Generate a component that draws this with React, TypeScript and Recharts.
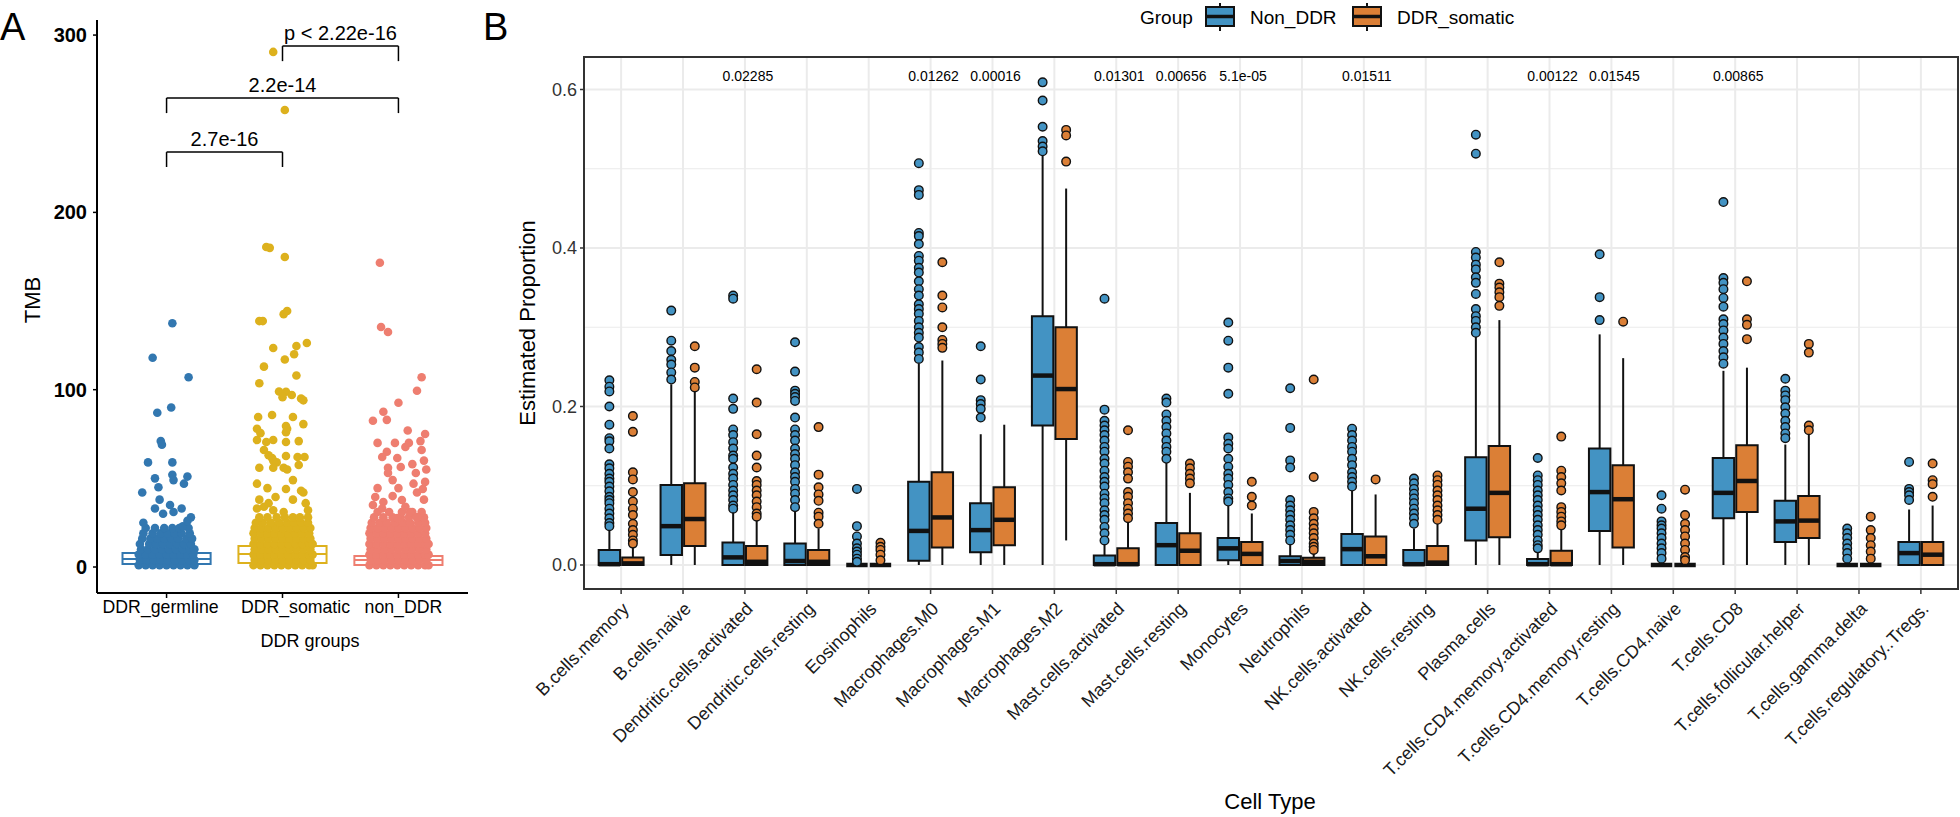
import { ScatterChart, Scatter, XAxis, YAxis, CartesianGrid, ReferenceArea, ReferenceLine } from 'recharts'

const FONT = '"Liberation Sans", Arial, Helvetica, sans-serif'

// ---------- panel A : TMB by DDR group ----------
const ddrGroups = ['DDR_germline', 'DDR_somatic', 'non_DDR']
const ddrColors = ['#3277B0', '#DDB11D', '#EE7E70']
// labels in the figure sit a bit off their ticks
const ddrLabelShift = [-6, 13, 5]
// [q1, median, q3]
const ddrBoxes = [
  [1.7, 4.5, 7.9],
  [2.3, 7.3, 11.9],
  [1.1, 4, 6.2],
]

// scattered points above the dense base: [jitter, TMB]
const germlinePoints = [
  [0.05, 137.5], [-0.12, 118], [0.19, 107], [-0.08, 87], [0.04, 90], [-0.05, 71], [-0.04, 69],
  [-0.16, 59], [0.05, 59], [-0.1, 50], [-0.07, 45], [0.05, 52], [0.06, 49], [0.15, 47], [0.18, 51],
  [-0.21, 42], [-0.06, 38], [-0.1, 33], [0.03, 35], [0.13, 33], [0.06, 31], [-0.03, 30], [0.21, 28],
  [0.14, 23], [0.18, 26], [-0.2, 25],
]
const somaticPoints = [
  [-0.08, 290.5], [0.02, 257.7], [-0.14, 180.5], [-0.11, 180], [0.02, 174.8], [-0.2, 138.7], [-0.17, 138.7],
  [0.01, 142.6], [0.04, 144.4], [-0.08, 123.5], [0.12, 124.6], [0.21, 126.3], [0.02, 117], [0.1, 120],
  [-0.16, 113], [0.12, 108], [-0.2, 103.6], [-0.03, 99], [0.03, 98.8], [0.08, 97], [0, 95.8], [0.16, 95],
  [0.18, 94], [-0.21, 84.6], [-0.09, 85.7], [0.09, 84.6], [0.03, 79.5], [0.18, 80.6], [-0.22, 78],
  [-0.19, 75.5], [-0.22, 71.6], [-0.14, 70.5], [-0.08, 71.6], [0.03, 76], [0.04, 78], [0.03, 70.5],
  [0.14, 71], [-0.16, 66], [-0.12, 63], [-0.09, 61.5], [-0.08, 60], [-0.05, 59], [0.03, 62.6], [0.13, 62],
  [0.19, 62], [-0.2, 56], [-0.08, 56], [0.01, 56], [0.04, 55], [0.14, 57.5], [-0.22, 47], [-0.13, 44.5],
  [-0.06, 39.5], [0.03, 44], [0.09, 49], [0.16, 43], [0.18, 42], [-0.22, 33], [-0.16, 34], [-0.08, 32],
  [0.01, 31], [0.09, 38], [0.22, 32], [-0.2, 38], [0.2, 36], [-0.12, 36],
]
const nonDdrPoints = [
  [-0.16, 171.6], [-0.15, 135.4], [-0.09, 132.5], [0.2, 107], [0.16, 99.4], [0, 92.6], [-0.13, 87.6],
  [-0.22, 82.5], [-0.1, 83], [0.08, 77], [-0.18, 70], [-0.03, 70], [0.06, 67.7], [0.09, 70], [-0.1, 65],
  [-0.14, 62], [-0.01, 61.5], [0.02, 56.4], [-0.09, 56], [-0.09, 53], [0.15, 53], [-0.18, 44.5],
  [-0.2, 39.5], [-0.05, 49], [0, 44.5], [0.13, 47], [0.16, 42], [-0.22, 35], [-0.13, 36.7], [0.03, 37.8],
  [-0.14, 33], [0.1, 31], [-0.01, 27.6], [0.16, 28], [0.22, 38], [0.21, 44], [0.22, 60], [0.2, 66],
  [-0.05, 40], [0.06, 34], [0.23, 75], [0.24, 55], [0.19, 71], [0.23, 48], [0.12, 58],
]

// dense base of points, row value -> jitter positions
const germlineBase: [number, number[]][] = [
  [1, [-0.24, -0.18, -0.12, -0.06, 0, 0.06, 0.12, 0.18, 0.24]],
  [4, [-0.23, -0.17, -0.11, -0.05, 0.01, 0.07, 0.13, 0.19, 0.24]],
  [7, [-0.24, -0.18, -0.12, -0.06, 0, 0.06, 0.12, 0.18, 0.23]],
  [10, [-0.22, -0.16, -0.1, -0.04, 0.02, 0.08, 0.14, 0.2, 0.24]],
  [13, [-0.23, -0.15, -0.09, -0.03, 0.03, 0.09, 0.15, 0.21]],
  [16, [-0.21, -0.14, -0.08, -0.02, 0.04, 0.1, 0.17, 0.22]],
  [19, [-0.2, -0.12, -0.05, 0.01, 0.07, 0.13, 0.2]],
  [22, [-0.18, -0.1, -0.02, 0.05, 0.11, 0.19]],
]
const somaticBase: [number, number[]][] = [
  [1, [-0.25, -0.19, -0.13, -0.07, -0.01, 0.05, 0.11, 0.17, 0.23, 0.26]],
  [4, [-0.24, -0.18, -0.12, -0.06, 0, 0.06, 0.12, 0.18, 0.24]],
  [7, [-0.25, -0.19, -0.13, -0.07, -0.01, 0.05, 0.11, 0.17, 0.23, 0.26]],
  [10, [-0.24, -0.18, -0.12, -0.06, 0, 0.06, 0.12, 0.18, 0.24]],
  [13, [-0.25, -0.19, -0.13, -0.07, -0.01, 0.05, 0.11, 0.17, 0.23, 0.26]],
  [16, [-0.24, -0.18, -0.12, -0.06, 0, 0.06, 0.12, 0.18, 0.24]],
  [19, [-0.25, -0.19, -0.13, -0.07, -0.01, 0.05, 0.11, 0.17, 0.23]],
  [22, [-0.24, -0.18, -0.12, -0.06, 0, 0.06, 0.12, 0.18, 0.24]],
  [25, [-0.23, -0.17, -0.1, -0.03, 0.04, 0.1, 0.16, 0.22]],
  [28, [-0.2, -0.13, -0.05, 0.02, 0.09, 0.15, 0.22]],
]
const nonDdrBase: [number, number[]][] = [
  [1, [-0.25, -0.19, -0.13, -0.07, -0.01, 0.05, 0.11, 0.17, 0.23, 0.26]],
  [4, [-0.24, -0.18, -0.12, -0.06, 0, 0.06, 0.12, 0.18, 0.24]],
  [7, [-0.25, -0.19, -0.13, -0.07, -0.01, 0.05, 0.11, 0.17, 0.23, 0.26]],
  [10, [-0.24, -0.18, -0.12, -0.06, 0, 0.06, 0.12, 0.18, 0.24]],
  [13, [-0.25, -0.19, -0.13, -0.07, -0.01, 0.05, 0.11, 0.17, 0.23, 0.26]],
  [16, [-0.24, -0.18, -0.12, -0.06, 0, 0.06, 0.12, 0.18, 0.24]],
  [19, [-0.25, -0.19, -0.13, -0.07, -0.01, 0.05, 0.11, 0.17, 0.23]],
  [22, [-0.24, -0.18, -0.12, -0.06, 0, 0.06, 0.12, 0.18, 0.24]],
  [25, [-0.23, -0.16, -0.1, -0.03, 0.04, 0.1, 0.17, 0.23]],
  [28, [-0.21, -0.13, -0.05, 0.02, 0.09, 0.16, 0.22]],
  [31, [-0.18, -0.08, 0.03, 0.12, 0.2]],
]

const brackets = [
  { from: 2, to: 3, y: 293.8, tip: 285.3, label: 'p < 2.22e-16' },
  { from: 1, to: 3, y: 264.5, tip: 256, label: '2.2e-14' },
  { from: 1, to: 2, y: 234, tip: 225.6, label: '2.7e-16' },
]

// ---------- panel B : CIBERSORT proportions ----------
const cellTypes = [
  'B.cells.memory', 'B.cells.naive', 'Dendritic.cells.activated', 'Dendritic.cells.resting',
  'Eosinophils', 'Macrophages.M0', 'Macrophages.M1', 'Macrophages.M2', 'Mast.cells.activated',
  'Mast.cells.resting', 'Monocytes', 'Neutrophils', 'NK.cells.activated', 'NK.cells.resting',
  'Plasma.cells', 'T.cells.CD4.memory.activated', 'T.cells.CD4.memory.resting', 'T.cells.CD4.naive',
  'T.cells.CD8', 'T.cells.follicular.helper', 'T.cells.gamma.delta', 'T.cells.regulatory..Tregs.',
]

// [lower whisker, q1, median, q3, upper whisker]
const nonDdrStats = [
  [0, 0, 0.001, 0.019, 0.046], [0, 0.0126, 0.049, 0.101, 0.228], [0, 0, 0.0096, 0.0285, 0.067],
  [0, 0, 0.005, 0.027, 0.067], [0, 0, 0, 0, 0], [0, 0.0055, 0.043, 0.105, 0.254],
  [0, 0.016, 0.044, 0.078, 0.165], [0, 0.176, 0.239, 0.314, 0.517], [0, 0, 0.001, 0.012, 0.027],
  [0, 0, 0.025, 0.053, 0.13], [0, 0.006, 0.021, 0.034, 0.075], [0, 0, 0.005, 0.011, 0.026],
  [0, 0, 0.02, 0.039, 0.094], [0, 0, 0.001, 0.019, 0.046], [0, 0.031, 0.071, 0.136, 0.288],
  [0, 0, 0.001, 0.0075, 0.017], [0, 0.043, 0.092, 0.147, 0.291], [0, 0, 0, 0, 0],
  [0, 0.059, 0.091, 0.135, 0.245], [0, 0.029, 0.055, 0.081, 0.152], [0, 0, 0, 0, 0],
  [0, 0, 0.015, 0.029, 0.07],
]
const ddrStats = [
  [0, 0, 0.002, 0.0096, 0.023], [0, 0.024, 0.058, 0.103, 0.22], [0, 0, 0.004, 0.024, 0.057],
  [0, 0, 0.004, 0.019, 0.046], [0, 0, 0, 0, 0], [0, 0.022, 0.06, 0.117, 0.258],
  [0, 0.025, 0.057, 0.098, 0.177], [0.031, 0.159, 0.222, 0.3, 0.475], [0, 0, 0.001, 0.021, 0.055],
  [0, 0, 0.018, 0.04, 0.091], [0, 0, 0.014, 0.029, 0.065], [0, 0, 0.004, 0.009, 0.016],
  [0, 0, 0.011, 0.036, 0.089], [0, 0, 0.003, 0.024, 0.055], [0, 0.035, 0.091, 0.15, 0.309],
  [0, 0, 0.001, 0.018, 0.046], [0, 0.022, 0.083, 0.126, 0.261], [0, 0, 0, 0, 0],
  [0, 0.067, 0.106, 0.151, 0.249], [0, 0.034, 0.056, 0.087, 0.164], [0, 0, 0, 0, 0],
  [0, 0, 0.013, 0.029, 0.075],
]

const nonDdrOutliers = [
  [0.233, 0.225, 0.219, 0.2, 0.177, 0.16, 0.156, 0.147, 0.127, 0.122, 0.115, 0.109, 0.105, 0.099, 0.093, 0.086, 0.082, 0.078, 0.071, 0.065, 0.059, 0.053, 0.049],
  [0.321, 0.283, 0.27, 0.259, 0.253, 0.243, 0.234],
  [0.34, 0.336, 0.21, 0.197, 0.171, 0.164, 0.155, 0.147, 0.138, 0.134, 0.123, 0.115, 0.109, 0.101, 0.094, 0.088, 0.082, 0.075, 0.071],
  [0.281, 0.244, 0.22, 0.216, 0.212, 0.207, 0.186, 0.171, 0.164, 0.157, 0.147, 0.14, 0.134, 0.126, 0.117, 0.111, 0.105, 0.096, 0.09, 0.082, 0.073],
  [0.096, 0.049, 0.036, 0.027, 0.021, 0.017, 0.013, 0.008, 0.004],
  [0.507, 0.473, 0.467, 0.419, 0.415, 0.405, 0.39, 0.384, 0.375, 0.369, 0.358, 0.348, 0.34, 0.329, 0.323, 0.317, 0.308, 0.3, 0.293, 0.287, 0.275, 0.268, 0.26],
  [0.276, 0.234, 0.208, 0.203, 0.197, 0.186],
  [0.609, 0.586, 0.553, 0.535, 0.528, 0.522],
  [0.336, 0.196, 0.182, 0.176, 0.17, 0.164, 0.157, 0.149, 0.143, 0.134, 0.128, 0.119, 0.111, 0.105, 0.099, 0.09, 0.084, 0.078, 0.069, 0.063, 0.057, 0.048, 0.04, 0.031],
  [0.21, 0.205, 0.19, 0.182, 0.174, 0.166, 0.157, 0.149, 0.143, 0.134],
  [0.306, 0.283, 0.249, 0.216, 0.161, 0.153, 0.147, 0.134, 0.124, 0.115, 0.109, 0.101, 0.092, 0.084, 0.08],
  [0.223, 0.173, 0.132, 0.123, 0.082, 0.075, 0.069, 0.063, 0.057, 0.05, 0.044, 0.038, 0.031],
  [0.172, 0.164, 0.157, 0.149, 0.143, 0.134, 0.126, 0.117, 0.111, 0.105, 0.099],
  [0.109, 0.103, 0.096, 0.09, 0.084, 0.078, 0.071, 0.065, 0.059, 0.052],
  [0.543, 0.519, 0.395, 0.388, 0.379, 0.373, 0.363, 0.356, 0.342, 0.323, 0.314, 0.308, 0.3, 0.293],
  [0.135, 0.113, 0.107, 0.101, 0.094, 0.088, 0.082, 0.075, 0.069, 0.063, 0.057, 0.05, 0.044, 0.038, 0.031, 0.025, 0.021],
  [0.392, 0.338, 0.309],
  [0.088, 0.071, 0.055, 0.05, 0.046, 0.04, 0.034, 0.027, 0.021, 0.015, 0.008],
  [0.458, 0.362, 0.356, 0.348, 0.337, 0.326, 0.31, 0.304, 0.296, 0.287, 0.279, 0.27, 0.262, 0.254],
  [0.235, 0.22, 0.214, 0.208, 0.199, 0.191, 0.182, 0.174, 0.166, 0.16],
  [0.046, 0.04, 0.034, 0.027, 0.021, 0.015, 0.008],
  [0.13, 0.096, 0.092, 0.088, 0.082],
]
const ddrOutliers = [
  [0.188, 0.168, 0.117, 0.108, 0.092, 0.08, 0.071, 0.063, 0.052, 0.044, 0.038, 0.031, 0.027],
  [0.276, 0.249, 0.231, 0.224],
  [0.247, 0.205, 0.165, 0.138, 0.123, 0.106, 0.101, 0.094, 0.088, 0.08, 0.073, 0.065, 0.061],
  [0.174, 0.114, 0.098, 0.089, 0.081, 0.066, 0.061, 0.052],
  [0.028, 0.023, 0.019, 0.013, 0.006],
  [0.382, 0.34, 0.325, 0.3, 0.284, 0.279, 0.274],
  [],
  [0.549, 0.542, 0.509],
  [0.17, 0.13, 0.124, 0.117, 0.109, 0.092, 0.086, 0.078, 0.071, 0.065, 0.059],
  [0.128, 0.122, 0.115, 0.109, 0.103],
  [0.105, 0.086, 0.075],
  [0.234, 0.111, 0.067, 0.059, 0.052, 0.046, 0.04, 0.034, 0.027, 0.023, 0.019],
  [0.108],
  [0.113, 0.107, 0.101, 0.094, 0.088, 0.082, 0.075, 0.069, 0.063, 0.057],
  [0.382, 0.355, 0.35, 0.344, 0.338, 0.327],
  [0.162, 0.119, 0.111, 0.103, 0.094, 0.073, 0.067, 0.061, 0.055, 0.05],
  [0.307],
  [0.095, 0.063, 0.052, 0.044, 0.036, 0.027, 0.019, 0.01, 0.006],
  [0.358, 0.31, 0.303, 0.285],
  [0.279, 0.268, 0.176, 0.17],
  [0.061, 0.044, 0.034, 0.025, 0.017, 0.008],
  [0.128, 0.107, 0.102, 0.086],
]

// wilcoxon p per cell type index
const pValues: [number, string][] = [
  [2, '0.02285'], [5, '0.01262'], [6, '0.00016'], [8, '0.01301'], [9, '0.00656'],
  [10, '5.1e-05'], [12, '0.01511'], [15, '0.00122'], [16, '0.01545'], [18, '0.00865'],
]
const pLabelY = 0.617

const groupNames = ['Non_DDR', 'DDR_somatic']
const groupColors = ['#4393C3', '#DB7F36']

const jitter = (pts: number[][], g: number) => pts.map(([dx, v]) => ({ x: g + dx, y: v }))
const base = (rows: [number, number[]][], g: number) =>
  rows.flatMap(([v, offs]) => offs.map(dx => ({ x: g + dx, y: v })))

const panelAPoints = [
  [...base(germlineBase, 1), ...jitter(germlinePoints, 1)],
  [...base(somaticBase, 2), ...jitter(somaticPoints, 2)],
  [...base(nonDdrBase, 3), ...jitter(nonDdrPoints, 3)],
]

const dot = (fill: string, r: number, stroke?: string) => (p: any) =>
  <circle cx={p.cx} cy={p.cy} r={r} fill={fill} stroke={stroke ?? 'none'} strokeWidth={stroke ? 1.4 : 0} />

const GroupTick = (props: any) => {
  const { x, y, payload } = props
  const i = payload.value - 1
  return (
    <text x={x + ddrLabelShift[i]} y={y} dy="0.71em" textAnchor="middle" fontSize={17.7} fill="#000"
      fontFamily={FONT}>{ddrGroups[i]}</text>
  )
}

function PanelA() {
  return (
    <ScatterChart width={480} height={817} margin={{ top: 20, right: 12, bottom: 194, left: 37 }}
      style={{ position: 'absolute', left: 0, top: 0 }}>
      <XAxis type="number" dataKey="x" domain={[0.4, 3.6]} ticks={[1, 2, 3]} interval={0} height={30}
        axisLine={{ stroke: '#000', strokeWidth: 2 }} tickLine={{ stroke: '#000', strokeWidth: 1.5 }} tickSize={5}
        tick={<GroupTick />} />
      <YAxis type="number" dataKey="y" domain={[-14.66, 308.5]} ticks={[0, 100, 200, 300]} width={60}
        allowDataOverflow axisLine={{ stroke: '#000', strokeWidth: 2 }} tickLine={{ stroke: '#000', strokeWidth: 1.5 }}
        tickSize={4} tickMargin={6}
        tick={{ fontSize: 20, fontWeight: 'bold', fill: '#000', fontFamily: FONT }} />
      {ddrBoxes.map(([q1, , q3], i) => (
        <ReferenceArea key={`boxA${i}`} x1={i + 1 - 0.38} x2={i + 1 + 0.38} y1={q1} y2={q3}
          fill="none" stroke={ddrColors[i]} strokeWidth={2} />
      ))}
      {ddrBoxes.map(([, med], i) => (
        <ReferenceLine key={`medA${i}`} segment={[{ x: i + 1 - 0.38, y: med }, { x: i + 1 + 0.38, y: med }]}
          stroke={ddrColors[i]} strokeWidth={2} />
      ))}
      {panelAPoints.map((pts, i) => (
        <Scatter key={`ptsA${i}`} data={pts} isAnimationActive={false} shape={dot(ddrColors[i], 4.3)} />
      ))}
      {brackets.flatMap((b, i) => [
        <ReferenceLine key={`bh${i}`} segment={[{ x: b.from, y: b.y }, { x: b.to, y: b.y }]} stroke="#000" strokeWidth={1.5} />,
        <ReferenceLine key={`bl${i}`} segment={[{ x: b.from, y: b.y }, { x: b.from, y: b.tip }]} stroke="#000" strokeWidth={1.5} />,
        <ReferenceLine key={`br${i}`} segment={[{ x: b.to, y: b.y }, { x: b.to, y: b.tip }]} stroke="#000" strokeWidth={1.5} />,
      ])}
      <Scatter data={brackets.map(b => ({ x: (b.from + b.to) / 2, y: b.y, label: b.label }))} isAnimationActive={false}
        shape={(p: any) => (
          <text x={p.cx} y={p.cy - 6} textAnchor="middle" fontSize={20} fill="#000" fontFamily={FONT}>{p.payload.label}</text>
        )} />
    </ScatterChart>
  )
}

const CellTick = (props: any) => {
  const { x, y, payload } = props
  const tx = x + 9
  const ty = y + 14
  return (
    <text x={tx} y={ty} transform={`rotate(-45, ${tx}, ${ty})`} textAnchor="end" fontSize={18}
      fill="#1a1a1a" fontFamily={FONT}>{cellTypes[payload.value]}</text>
  )
}

function boxes(stats: number[][], side: number, fill: string, tag: string) {
  const half = 0.173
  return stats.flatMap(([lo, q1, med, q3, hi], i) => {
    const c = i + side * 0.19
    return [
      <ReferenceLine key={`${tag}wu${i}`} segment={[{ x: c, y: q3 }, { x: c, y: hi }]} stroke="#111" strokeWidth={2} />,
      <ReferenceLine key={`${tag}wl${i}`} segment={[{ x: c, y: lo }, { x: c, y: q1 }]} stroke="#111" strokeWidth={2} />,
      <ReferenceArea key={`${tag}b${i}`} x1={c - half} x2={c + half} y1={q1} y2={q3}
        fill={fill} fillOpacity={1} stroke="#111" strokeWidth={2} />,
      <ReferenceLine key={`${tag}m${i}`} segment={[{ x: c - half, y: med }, { x: c + half, y: med }]}
        stroke="#111" strokeWidth={4.5} />,
    ]
  })
}

const outlierPoints = (lists: number[][], side: number) =>
  lists.flatMap((vals, i) => vals.map(v => ({ x: i + side * 0.19, y: v })))

function PanelB() {
  return (
    <ScatterChart width={1480} height={817} margin={{ top: 57, right: 2, bottom: 28, left: 44 }}
      style={{ position: 'absolute', left: 480, top: 0 }}>
      <CartesianGrid horizontalValues={[0.1, 0.3, 0.5]} vertical={false} stroke="#EBEBEB" strokeWidth={1} />
      <CartesianGrid horizontalValues={[0, 0.2, 0.4, 0.6]} verticalValues={cellTypes.map((_, i) => i)}
        stroke="#EBEBEB" strokeWidth={2} />
      <XAxis type="number" dataKey="x" domain={[-0.6, 21.6]} ticks={cellTypes.map((_, i) => i)} interval={0}
        allowDataOverflow height={200} axisLine={false} tickLine={{ stroke: '#333', strokeWidth: 1.5 }} tickSize={5}
        tick={<CellTick />} />
      <YAxis type="number" dataKey="y" domain={[-0.0303, 0.641]} ticks={[0, 0.2, 0.4, 0.6]} width={60}
        allowDataOverflow axisLine={false} tickLine={{ stroke: '#333', strokeWidth: 1.5 }} tickSize={4} tickMargin={3}
        tickFormatter={(v: number) => v.toFixed(1)} tick={{ fontSize: 18, fill: '#333', fontFamily: FONT }} />
      <ReferenceArea x1={-0.6} x2={21.6} y1={-0.0303} y2={0.641} fill="none" stroke="#333" strokeWidth={2} ifOverflow="visible" />
      {boxes(nonDdrStats, -1, groupColors[0], 'n')}
      {boxes(ddrStats, 1, groupColors[1], 'd')}
      <Scatter data={outlierPoints(nonDdrOutliers, -1)} isAnimationActive={false} shape={dot(groupColors[0], 4.3, '#111')} />
      <Scatter data={outlierPoints(ddrOutliers, 1)} isAnimationActive={false} shape={dot(groupColors[1], 4.3, '#111')} />
      <Scatter data={pValues.map(([i, label]) => ({ x: i, y: pLabelY, label }))} isAnimationActive={false}
        shape={(p: any) => (
          <text x={p.cx + 3} y={p.cy} dy={5} textAnchor="middle" fontSize={14} fill="#000" fontFamily={FONT}>{p.payload.label}</text>
        )} />
    </ScatterChart>
  )
}

function LegendKey({ x, fill }: { x: number; fill: string }) {
  return (
    <g>
      <line x1={x + 14} x2={x + 14} y1={3} y2={31} stroke="#111" strokeWidth={2} />
      <rect x={x} y={7} width={28} height={19} fill={fill} stroke="#111" strokeWidth={2} />
      <line x1={x} x2={x + 28} y1={16.5} y2={16.5} stroke="#111" strokeWidth={3.5} />
    </g>
  )
}

export default function App() {
  return (
    <div style={{ position: 'absolute', left: 0, top: 0, width: 1960, height: 817, background: '#fff', fontFamily: FONT }}>
      <PanelA />
      <PanelB />
      <svg width={1960} height={817} style={{ position: 'absolute', left: 0, top: 0, pointerEvents: 'none' }} fontFamily={FONT}>
        <text x={0} y={40} fontSize={38} fill="#000">A</text>
        <text x={483} y={40} fontSize={38} fill="#000">B</text>
        <text x={40} y={300} fontSize={22} textAnchor="middle" transform="rotate(-90, 40, 300)" fill="#000">TMB</text>
        <text x={310} y={647} fontSize={18} textAnchor="middle" fill="#000">DDR groups</text>
        <text x={535} y={323} fontSize={22} textAnchor="middle" transform="rotate(-90, 535, 323)" fill="#000">Estimated Proportion</text>
        <text x={1270} y={809} fontSize={22} textAnchor="middle" fill="#000">Cell Type</text>
        <text x={1140} y={24} fontSize={19} fill="#000">Group</text>
        <LegendKey x={1206} fill={groupColors[0]} />
        <text x={1250} y={24} fontSize={19} fill="#000">{groupNames[0]}</text>
        <LegendKey x={1353} fill={groupColors[1]} />
        <text x={1397} y={24} fontSize={19} fill="#000">{groupNames[1]}</text>
      </svg>
    </div>
  )
}
